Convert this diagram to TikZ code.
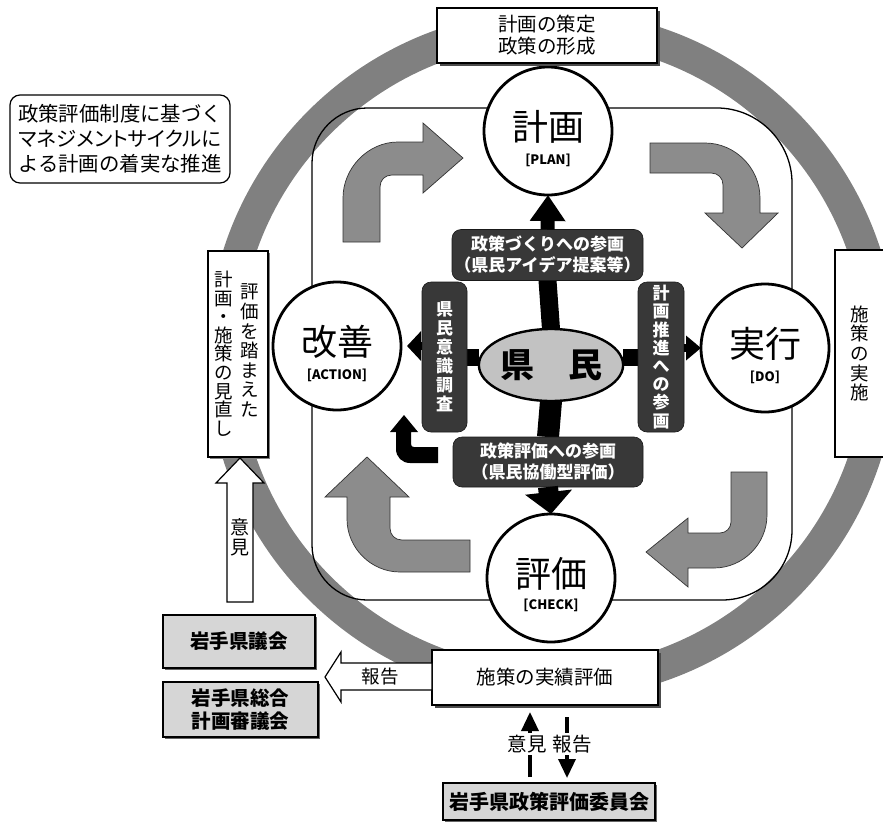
\documentclass[tikz,border=0pt]{standalone}
\usepackage{fontspec}
\setmainfont{Noto Sans CJK JP}
\newfontfamily\jpp[RawFeature=+palt]{Noto Sans CJK JP}
\usetikzlibrary{arrows.meta,shadows,calc,shapes.geometric}
\pgfdeclarelayer{ringlayer}
\pgfdeclarelayer{bglayer}
\pgfsetlayers{ringlayer,bglayer,main}
\newcommand\fsz[2]{\fontsize{#1}{#2}\selectfont}
\begin{document}
\begin{tikzpicture}[x=1pt,y=-1pt,
  every node/.style={inner sep=0pt, outer sep=0pt},
  ringfill/.style={fill=black!50},
  rectline/.style={draw=black, line width=1.3pt},
  grayarrow/.style={fill=black!45, draw=black!80, line width=0.7pt},
  hollow/.style={fill=white, draw=black, line width=1.2pt},
  stage/.style={circle, draw=black, line width=2.8pt, fill=white, minimum size=128pt},
  bigtxt/.style={font=\fsz{36}{38}},
  tagtxt/.style={font=\bfseries\fsz{13}{16}},
  darkbox/.style={fill=black!78, draw=black!90, line width=0.6pt, rounded corners=9pt, text=white, font=\bfseries\fsz{17}{21}, align=center},
  whitebox/.style={draw=black, line width=1.2pt, fill=white, align=center},
  shadowbox/.style={whitebox, drop shadow={shadow xshift=2.5pt, shadow yshift=-2.5pt, fill=black!70, opacity=1}},
  graybox/.style={draw=black, line width=1.2pt, fill=black!16, align=center, font=\bfseries\fsz{19.5}{23}, drop shadow={shadow xshift=2pt, shadow yshift=-2pt, fill=black!60, opacity=1}},
  thinarrow/.style={draw=black, line width=3.5pt, -{Triangle[width=17pt,length=19pt]}},
  lbl/.style={fill=white, inner xsep=1pt, inner ysep=2pt, font=\fsz{19.5}{21}}
]
\useasboundingbox (0,0) rectangle (883,830);

% ring
\begin{pgfonlayer}{ringlayer}
\fill[ringfill, even odd rule] (552,355) circle[radius=345] (552,355) circle[radius=313];
\end{pgfonlayer}

% stages
\node[stage] (plan) at (548,131) {};
\node[bigtxt] (plant) at ($(plan)+(0,-4)$) {計画};
\node[tagtxt] (plantag) at ($(plan)+(0,29)$) {[PLAN]};
\node[stage] (kaizen) at (337,346) {};
\node[bigtxt] (kaizent) at ($(kaizen)+(0,-4)$) {改善};
\node[tagtxt] (kaizentag) at ($(kaizen)+(0,29)$) {[ACTION]};
\node[stage] (jikko) at (765,348) {};
\node[bigtxt] (jikkot) at ($(jikko)+(0,-4)$) {実行};
\node[tagtxt] (jikkotag) at ($(jikko)+(0,29)$) {[DO]};
\node[stage] (check) at (551,578) {};
\node[bigtxt] (checkt) at ($(check)+(0,-4)$) {評価};
\node[tagtxt] (checktag) at ($(check)+(0,27)$) {[CHECK]};

% citizens
\node[ellipse, draw=black, line width=2.4pt, fill=black!24, minimum width=136pt, minimum height=72pt, font=\bfseries\fsz{34}{36}] (kenmin) at (551,365) {県　民};

% dark boxes
\node[darkbox, minimum width=191pt, minimum height=51pt] (idea) at (547.5,255) {政策づくりへの参画\\（県民アイデア提案等）};
\node[darkbox, minimum width=46pt, minimum height=150pt, font=\bfseries\fsz{17}{18.2}] (suishin) at (661,357) {計\\画\\推\\進\\へ\\の\\参\\画};
\node[darkbox, minimum width=45pt, minimum height=150pt, font=\bfseries\fsz{17}{19}] (ishiki) at (444.5,357) {県\\民\\意\\識\\調\\査};
\node[darkbox, minimum width=190pt, minimum height=50pt] (hsanka) at (548,462) {政策評価への参画\\（県民協働型評価）};

% inner rectangle, gray arrows, black shafts
\begin{pgfonlayer}{bglayer}
\draw[rectline] (367,108) -- (717,108) .. controls (758,108) and (792,142) .. (792,183) -- (792,530) .. controls (792,569) and (761,600) .. (722,600) -- (367,600) .. controls (337,600) and (312,575) .. (312,545) -- (312,163) .. controls (312,133) and (337,108) .. (367,108) -- cycle;
\filldraw[grayarrow] (343,242) -- (343,198) .. controls (343,168) and (368,142) .. (398,142) -- (423,142) -- (423,123) -- (463,158) -- (423,193) -- (423,175) -- (392,175) .. controls (385,175) and (380,180) .. (380,187) -- (380,242) -- cycle;
\filldraw[grayarrow] (650,143) -- (705,143) .. controls (735,143) and (760,168) .. (760,198) -- (760,213) -- (778,213) -- (742,248) -- (705,213) -- (723,213) -- (723,185) .. controls (723,178) and (718,173) .. (711,173) -- (650,173) -- cycle;
\filldraw[grayarrow] (731,472) -- (767,472) -- (767,515) .. controls (767,544) and (743,568) .. (714,568) -- (688,568) -- (688,587) -- (646,552) -- (688,518) -- (688,533) -- (720,533) .. controls (726,533) and (731,528) .. (731,522) -- cycle;
\filldraw[grayarrow] (470,540) -- (470,572) -- (400,572) .. controls (371,572) and (347,548) .. (347,519) -- (347,497) -- (325,497) -- (367,457) -- (409,497) -- (390,497) -- (390,528) .. controls (390,535) and (395,540) .. (402,540) -- cycle;
\fill[black] (438,447) -- (438,463) -- (410,463) .. controls (402,463) and (396,457) .. (396,449) -- (396,432) -- (390,432) -- (404,415) -- (418,432) -- (411,432) -- (411,444) .. controls (411,446) and (412,447) .. (414,447) -- cycle;
\draw[line width=18pt] (kenmin.north) -- (idea.south);
\draw[line width=17pt] (kenmin.east |- suishin.west) -- (suishin.west);
\draw[line width=17pt] (kenmin.west |- ishiki.east) -- (ishiki.east);
\draw[line width=22pt] (kenmin.south) -- (hsanka.north);
\end{pgfonlayer}

% black arrow heads
\draw[-{Triangle[width=34pt,length=26pt]}, line width=14pt] (idea.north) -- (plan.south);
\draw[-{Triangle[width=24pt,length=15pt]}, line width=8pt] (suishin.east |- jikko.west) -- (jikko.west);
\draw[-{Triangle[width=29pt,length=14pt]}, line width=8pt, shorten >=6pt] (ishiki.west |- kaizen.east) -- (kaizen.east);
\draw[-{Triangle[width=46pt,length=22pt]}, line width=20pt] (hsanka.south) -- (check.north);

% outer boxes
\node[shadowbox, minimum width=220pt, minimum height=55pt, font=\fsz{19.5}{22}] (sakutei) at (547,35.5) {計画の策定\\政策の形成};
\node[whitebox, rounded corners=10pt, minimum width=220pt, minimum height=88pt, font=\fsz{20.4}{25}] (note) at (120,139) {政策評価制度に基づく\\{\jpp マネジメントサイクルに}\\よる計画の着実な推進};
\node[whitebox, minimum width=60pt, minimum height=206pt, drop shadow={shadow xshift=2pt, shadow yshift=-2pt, fill=black!50, opacity=1}] (minaoshi) at (238,354) {};
\node[font=\fsz{18.5}{19.6}, align=center, anchor=north] (col1) at (250,284) {評\\価\\を\\踏\\ま\\え\\た};
\node[font=\fsz{18.5}{18.6}, align=center, anchor=north] (col2) at (224,271) {計\\画\\・\\施\\策\\の\\見\\直\\し};
\node[whitebox, minimum width=50pt, minimum height=207pt, font=\fsz{18.5}{19.6}] (jisshi) at (860,353.5) {施\\策\\の\\実\\施};
\node[shadowbox, minimum width=226pt, minimum height=55pt, font=\fsz{19.5}{22}] (jisseki) at (545,677.5) {施策の実績評価};

% left hollow arrows
\draw[hollow] (227,602) -- (227,483) -- (216,483) -- (240,458) -- (264,483) -- (253,483) -- (253,602) -- cycle;
\node[font=\fsz{19}{19.5}, align=center] (ikenL) at (240,537.5) {意\\見};
\draw[hollow] (432,663) -- (341,663) -- (341,652) -- (325,677) -- (341,702) -- (341,690) -- (432,690) -- cycle;
\node[font=\fsz{18.5}{20}] (hokokuL) at (380,677) {報告};

% councils
\node[graybox, minimum width=152pt, minimum height=53pt] (gikai) at (239,641.5) {岩手県議会};
\node[graybox, minimum width=155pt, minimum height=55pt] (shingikai) at (240.5,709.5) {岩手県総合\\計画審議会};
\node[graybox, minimum width=212pt, minimum height=37pt, font=\bfseries\fsz{20}{22}] (iinkai) at (549,801.5) {岩手県政策評価委員会};

% committee arrows
\draw[thinarrow, shorten >=7pt, shorten <=6pt] ($(iinkai.north)+(-19,0)$) -- node[lbl, xshift=-3pt] (ikenB) {意見} ($(jisseki.south)+(-15,0)$);
\draw[thinarrow, shorten <=12pt, shorten >=5pt] ($(jisseki.south)+(22,0)$) -- node[lbl, xshift=5pt] (hokokuB) {報告} ($(iinkai.north)+(18,0)$);
\end{tikzpicture}
\end{document}
